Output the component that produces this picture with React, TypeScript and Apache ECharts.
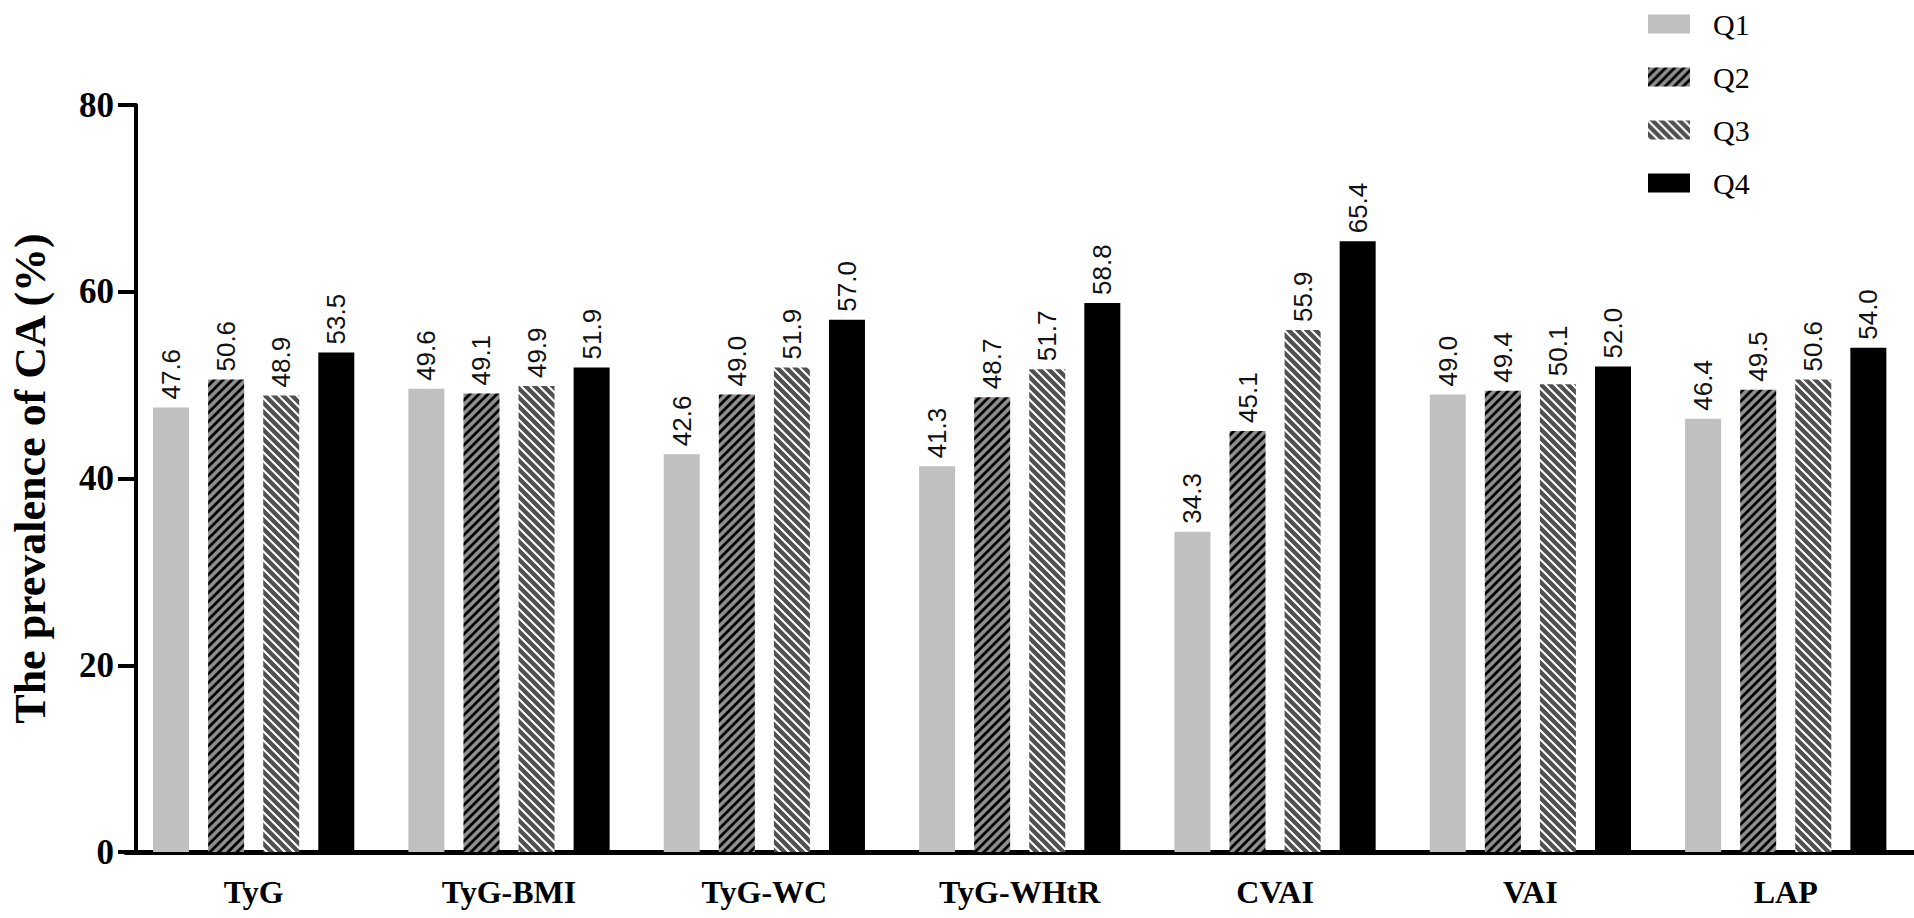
import React, { useEffect, useRef } from "react";
import * as echarts from "echarts";

const categories = ["TyG", "TyG-BMI", "TyG-WC", "TyG-WHtR", "CVAI", "VAI", "LAP"];
const seriesNames = ["Q1", "Q2", "Q3", "Q4"];
const q1 = [47.6, 49.6, 42.6, 41.3, 34.3, 49.0, 46.4];
const q2 = [50.6, 49.1, 49.0, 48.7, 45.1, 49.4, 49.5];
const q3 = [48.9, 49.9, 51.9, 51.7, 55.9, 50.1, 50.6];
const q4 = [53.5, 51.9, 57.0, 58.8, 65.4, 52.0, 54.0];
const yTicks = [0, 20, 40, 60, 80];

function makeStripe(bg: string, fg: string, dir: "up" | "down", size: number, lw: number) {
  const c = document.createElement("canvas");
  c.width = size;
  c.height = size;
  const ctx = c.getContext("2d")!;
  ctx.fillStyle = bg;
  ctx.fillRect(0, 0, size, size);
  ctx.strokeStyle = fg;
  ctx.lineWidth = lw;
  ctx.lineCap = "square";
  const s = size;
  ctx.beginPath();
  if (dir === "up") {
    ctx.moveTo(-1, 1);
    ctx.lineTo(1, -1);
    ctx.moveTo(0, s);
    ctx.lineTo(s, 0);
    ctx.moveTo(s - 1, s + 1);
    ctx.lineTo(s + 1, s - 1);
  } else {
    ctx.moveTo(-1, s - 1);
    ctx.lineTo(1, s + 1);
    ctx.moveTo(0, 0);
    ctx.lineTo(s, s);
    ctx.moveTo(s - 1, -1);
    ctx.lineTo(s + 1, 1);
  }
  ctx.stroke();
  return { image: c, repeat: "repeat", imageWidth: s, imageHeight: s };
}

export default function App() {
  const ref = useRef<HTMLDivElement>(null);
  useEffect(() => {
    document.body.style.margin = "0";
    const chart = echarts.init(ref.current!, null, { renderer: "svg" });
    const colors: any[] = [
      "#c0c0c0",
      makeStripe("#8e8e8e", "#000000", "up", 9, 2.8),
      makeStripe("#505050", "#ffffff", "down", 9, 2),
      "#000000",
    ];
    const datas = [q1, q2, q3, q4];
    const series = seriesNames.map((name, i) => ({
      name,
      type: "bar",
      data: datas[i],
      barWidth: 36,
      barGap: "53%",
      itemStyle: { color: colors[i] },
      label: {
        show: true,
        position: "top",
        rotate: 90,
        align: "left",
        verticalAlign: "middle",
        distance: 8,
        fontFamily: "Liberation Sans",
        fontSize: 26,
        color: "#111",
        formatter: (p: any) => Number(p.value).toFixed(1),
      },
    }));
    chart.setOption({
      animation: false,
      backgroundColor: "#ffffff",
      legend: {
        orient: "vertical",
        left: 1643,
        top: 4,
        icon: "rect",
        itemWidth: 42,
        itemHeight: 19,
        itemGap: 23,
        data: seriesNames,
        textStyle: {
          fontFamily: "Liberation Serif",
          fontSize: 30,
          lineHeight: 30,
          color: "#000",
          padding: [0, 0, 0, 18],
        },
      },
      grid: { left: 113.4, right: 0.6, top: 105, bottom: 66, containLabel: false },
      xAxis: {
        type: "category",
        data: categories,
        axisLine: { lineStyle: { color: "#000", width: 5 } },
        axisTick: { alignWithLabel: true, length: 16, lineStyle: { color: "#000", width: 4 } },
        axisLabel: {
          margin: 24,
          fontFamily: "Liberation Serif",
          fontWeight: "bold",
          fontSize: 32,
          color: "#000",
        },
      },
      yAxis: {
        type: "value",
        min: 0,
        max: 80,
        interval: 20,
        offset: -10,
        name: "The prevalence of CA (%)",
        nameLocation: "middle",
        nameGap: 84,
        nameTextStyle: {
          fontFamily: "Liberation Serif",
          fontWeight: "bold",
          fontSize: 44,
          color: "#000",
        },
        splitLine: { show: false },
        axisLine: { show: true, lineStyle: { color: "#000", width: 4 } },
        axisTick: { show: true, length: 18, lineStyle: { color: "#000", width: 4 } },
        axisLabel: {
          margin: 22,
          fontFamily: "Liberation Serif",
          fontWeight: "bold",
          fontSize: 35,
          color: "#000",
          formatter: (v: number) => (yTicks.includes(v) ? String(v) : ""),
        },
      },
      series,
    });
    return () => chart.dispose();
  }, []);
  return <div ref={ref} style={{ width: 1914, height: 918 }} />;
}
